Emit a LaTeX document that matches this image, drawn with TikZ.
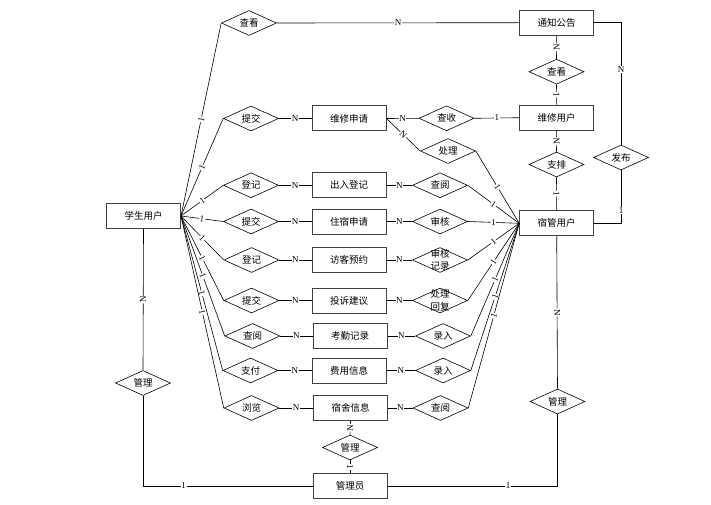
\documentclass[tikz,border=0pt]{standalone}
\usepackage{fontspec}
\setmainfont{Liberation Serif}
\newfontfamily\cjk{Noto Sans CJK SC}
\usetikzlibrary{shapes.geometric}

\begin{document}
\begin{tikzpicture}[x=1pt, y=-1pt, font=\cjk\fontsize{9.5}{12.5}\selectfont, entity/.style={rectangle, draw=black!75, line width=1pt, minimum width=74pt, minimum height=25pt, inner sep=0pt}, relation/.style={diamond, draw, line width=0.6pt, minimum width=55pt, minimum height=25pt, inner sep=0pt, aspect=2.2}, card/.style={font=\rmfamily\fontsize{9}{9}\selectfont, fill=white, inner sep=0.6pt}, link/.style={line width=0.6pt}]

		\useasboundingbox (0,0) rectangle (711,505);

		\node[entity] (stu) at (143.5, 216) {学生用户};
		\node[relation] (ck1) at (249, 23) {查看};
		\node[entity] (tz) at (556.7, 22.7) {通知公告};
		\node[relation] (ck2) at (556.5, 71.7) {查看};
		\node[entity] (wxyh) at (556.7, 117.7) {维修用户};
		\node[relation] (ap) at (556.5, 164.5) {支排};
		\node[entity] (sg) at (556.7, 223.3) {宿管用户};
		\node[relation] (fb) at (621, 157.5) {发布};

		\node[relation] (tj1) at (251, 118.5) {提交};
		\node[entity] (wxsq) at (349, 118.5) {维修申请};
		\node[relation] (cs) at (446.5, 118.3) {查收};
		\node[relation] (cl) at (448, 151) {处理};

		\node[relation] (dj1) at (251, 185.3) {登记};
		\node[entity] (crdj) at (349, 185.3) {出入登记};
		\node[relation] (cy1) at (440, 185.3) {查阅};

		\node[relation] (tj2) at (251, 221.5) {提交};
		\node[entity] (zssq) at (349, 221.5) {住宿申请};
		\node[relation] (sh) at (440, 221.5) {审核};

		\node[relation] (dj2) at (251.5, 260) {登记};
		\node[entity] (fkyy) at (349, 260) {访客预约};
		\node[relation, label={[align=center, inner sep=0pt]center:审核\\记录}] (shjl) at (440, 260) {};

		\node[relation] (tj3) at (251.5, 300.5) {提交};
		\node[entity] (tsjy) at (349, 300.5) {投诉建议};
		\node[relation, label={[align=center, inner sep=0pt]center:处理\\回复}] (clhf) at (440, 300.5) {};

		\node[relation] (cy2) at (252.5, 336) {查阅};
		\node[entity] (kqjl) at (350, 336) {考勤记录};
		\node[relation] (lr1) at (443, 336) {录入};

		\node[relation] (zf) at (250.5, 370.5) {支付};
		\node[entity] (fyxx) at (349, 370.5) {费用信息};
		\node[relation] (lr2) at (443, 370.5) {录入};

		\node[relation] (ll) at (251.5, 408) {浏览};
		\node[entity] (ssxx) at (350.5, 408) {宿舍信息};
		\node[relation] (cy3) at (440.5, 408) {查阅};

		\node[relation] (gl1) at (143, 383) {管理};
		\node[relation] (gl2) at (350, 447.5) {管理};
		\node[relation] (gl3) at (557.5, 401.5) {管理};
		\node[entity] (gly) at (350, 486) {管理员};

		% top: notices
		\draw[link] (stu.east) -- node[card, sloped] {1} (ck1.west);
		\draw[link] (ck1.east) -- node[card] {N} (tz.west);
		\draw[link] (tz.south) -- node[card, sloped] {N} (ck2.north);
		\draw[link] (ck2.south) -- node[card, sloped] {1} (wxyh.north);
		\draw[link] (wxyh.south) -- node[card, sloped] {N} (ap.north);
		\draw[link] (ap.south) -- node[card, sloped] {1} (sg.north);
		\draw[link] (tz.east) -| node[card, pos=0.69] {N} (fb.north);
		\draw[link] (fb.south) |- node[card, pos=0.38] {1} (sg.east);

		% repairs
		\draw[link] (stu.east) -- node[card, sloped] {1} (tj1.west);
		\draw[link] (tj1.east) -- node[card] {N} (wxsq.west);
		\draw[link] (wxsq.east) -- node[card] {N} (cs.west);
		\draw[link] (cs.east) -- node[card] {1} (wxyh.west);
		\draw[link] (wxsq.east) -- node[card, sloped] {N} (cl.west);
		\draw[link] (cl.east) -- node[card, sloped] {1} (sg.west);

		% student rows
		\draw[link] (stu.east) -- node[card, sloped] {1} (dj1.west);
		\draw[link] (dj1.east) -- node[card] {N} (crdj.west);
		\draw[link] (crdj.east) -- node[card] {N} (cy1.west);
		\draw[link] (cy1.east) -- node[card, sloped] {1} (sg.west);

		\draw[link] (stu.east) -- node[card, sloped] {1} (tj2.west);
		\draw[link] (tj2.east) -- node[card] {N} (zssq.west);
		\draw[link] (zssq.east) -- node[card] {N} (sh.west);
		\draw[link] (sh.east) -- node[card, sloped] {1} (sg.west);

		\draw[link] (stu.east) -- node[card, sloped] {1} (dj2.west);
		\draw[link] (dj2.east) -- node[card] {N} (fkyy.west);
		\draw[link] (fkyy.east) -- node[card] {N} (shjl.west);
		\draw[link] (shjl.east) -- node[card, sloped] {1} (sg.west);

		\draw[link] (stu.east) -- node[card, sloped] {1} (tj3.west);
		\draw[link] (tj3.east) -- node[card] {N} (tsjy.west);
		\draw[link] (tsjy.east) -- node[card] {N} (clhf.west);
		\draw[link] (clhf.east) -- node[card, sloped] {1} (sg.west);

		\draw[link] (stu.east) -- node[card, sloped] {1} (cy2.west);
		\draw[link] (cy2.east) -- node[card] {N} (kqjl.west);
		\draw[link] (kqjl.east) -- node[card] {N} (lr1.west);
		\draw[link] (lr1.east) -- node[card, sloped] {1} (sg.west);

		\draw[link] (stu.east) -- node[card, sloped] {1} (zf.west);
		\draw[link] (zf.east) -- node[card] {N} (fyxx.west);
		\draw[link] (fyxx.east) -- node[card] {N} (lr2.west);
		\draw[link] (lr2.east) -- node[card, sloped] {1} (sg.west);

		\draw[link] (stu.east) -- node[card, sloped] {1} (ll.west);
		\draw[link] (ll.east) -- node[card] {N} (ssxx.west);
		\draw[link] (ssxx.east) -- node[card] {N} (cy3.west);
		\draw[link] (cy3.east) -- node[card, sloped] {1} (sg.west);

		% admin
		\draw[link] (stu.south) -- node[card, sloped] {N} (gl1.north);
		\draw[link] (gl1.south) |- node[card, pos=0.62] {1} (gly.west);
		\draw[link] (ssxx.south) -- node[card, sloped] {N} (gl2.north);
		\draw[link] (gl2.south) -- node[card, sloped] {1} (gly.north);
		\draw[link] (sg.south) -- node[card, sloped] {N} (gl3.north);
		\draw[link] (gl3.south) |- node[card, pos=0.645] {1} (gly.east);

	\end{tikzpicture}
\end{document}
